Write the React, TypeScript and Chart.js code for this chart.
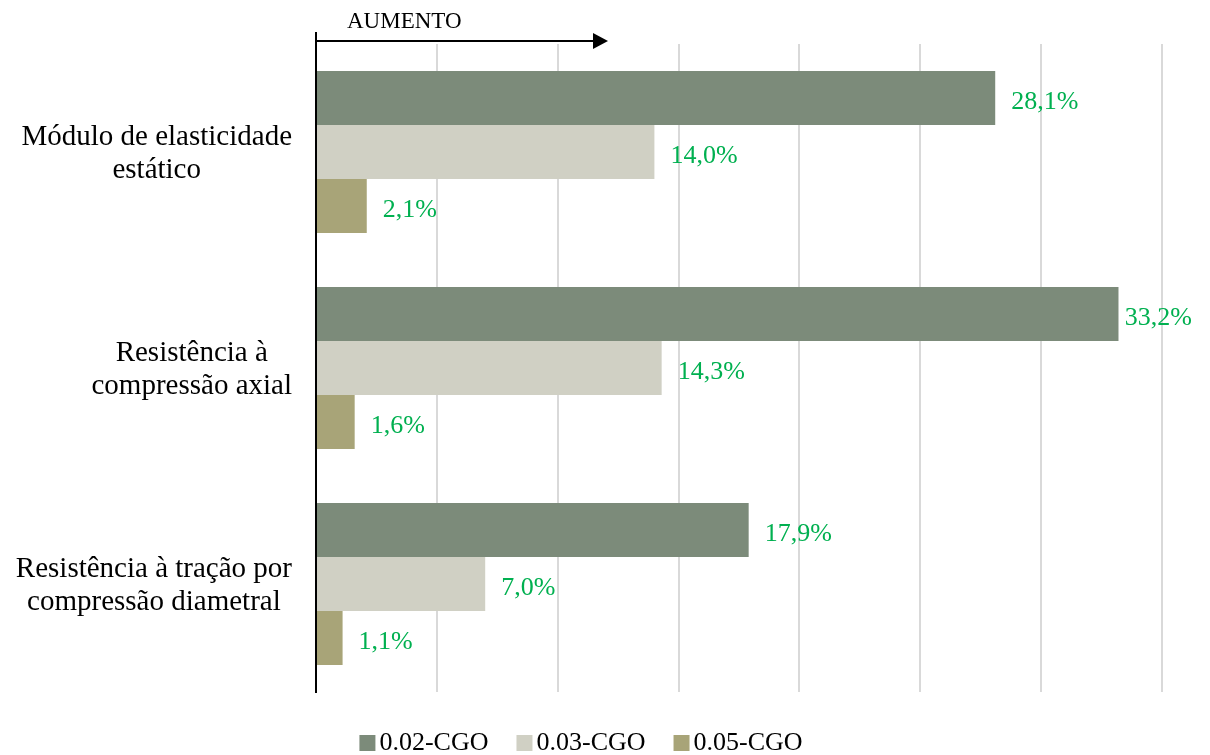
import React, { useEffect, useRef } from "react";
import { Chart, registerables } from "chart.js";

Chart.register(...registerables);

// Properties measured (multi-line category labels)
const categories: string[][] = [
  ["Módulo de elasticidade", "estático"],
  ["Resistência à", "compressão axial"],
  ["Resistência à tração por", "compressão diametral"],
];

// Percentage increase for each graphene-oxide content
const series02CGO: number[] = [28.1, 33.2, 17.9];
const series03CGO: number[] = [14.0, 14.3, 7.0];
const series05CGO: number[] = [2.1, 1.6, 1.1];

const seriesNames: string[] = ["0.02-CGO", "0.03-CGO", "0.05-CGO"];
const seriesColors: string[] = ["#7C8B7A", "#D0D0C4", "#A8A478"];

const xMin = 0;
const xMax = 35;
const xStep = 5;

const arrowCaption = "AUMENTO";

const SERIF = "'Liberation Serif', 'Times New Roman', serif";
const LABEL_GREEN = "#00B050";

const fmtPct = (v: number) => v.toFixed(1).replace(".", ",") + "%";

// Category labels: each block right-aligned to the axis, its lines centred within the block
const categoryLabels = {
  id: "categoryLabels",
  afterDraw(chart: any) {
    const ctx = chart.ctx;
    const yScale = chart.scales.y;
    const right = chart.chartArea.left - 24;
    const lineH = 33;
    ctx.save();
    ctx.font = `29px ${SERIF}`;
    ctx.fillStyle = "#000";
    ctx.textAlign = "center";
    ctx.textBaseline = "middle";
    (chart.data.labels as string[][]).forEach((lines, i) => {
      const w = Math.max(...lines.map((l) => ctx.measureText(l).width));
      const cx = right - w / 2;
      const cy = yScale.getPixelForValue(i);
      const y0 = cy - ((lines.length - 1) * lineH) / 2 + 2;
      lines.forEach((l, k) => ctx.fillText(l, cx, y0 + k * lineH));
    });
    ctx.restore();
  },
};

// Value labels to the right of each bar, kept inside the canvas
const valueLabels = {
  id: "valueLabels",
  afterDatasetsDraw(chart: any) {
    const ctx = chart.ctx;
    ctx.save();
    ctx.font = `26px ${SERIF}`;
    ctx.fillStyle = LABEL_GREEN;
    ctx.textAlign = "left";
    ctx.textBaseline = "middle";
    chart.data.datasets.forEach((ds: any, di: number) => {
      const meta = chart.getDatasetMeta(di);
      meta.data.forEach((el: any, i: number) => {
        const txt = fmtPct(ds.data[i]);
        const w = ctx.measureText(txt).width;
        const x = Math.min(el.x + 16, chart.width - 10 - w);
        ctx.fillText(txt, x, el.y + 4);
      });
    });
    ctx.restore();
  },
};

// Vertical axis line, "AUMENTO" arrow and the bottom legend
const decorations = {
  id: "decorations",
  afterDraw(chart: any) {
    const ctx = chart.ctx;
    const area = chart.chartArea;
    const x0 = chart.scales.x.getPixelForValue(xMin);
    ctx.save();

    // vertical baseline
    ctx.strokeStyle = "#000";
    ctx.lineWidth = 2;
    ctx.beginPath();
    ctx.moveTo(x0, area.top - 12);
    ctx.lineTo(x0, area.bottom + 1);
    ctx.stroke();

    // arrow
    const ay = area.top - 3;
    const tip = x0 + 292;
    ctx.beginPath();
    ctx.moveTo(x0, ay);
    ctx.lineTo(tip - 14, ay);
    ctx.stroke();
    ctx.fillStyle = "#000";
    ctx.beginPath();
    ctx.moveTo(tip, ay);
    ctx.lineTo(tip - 15, ay - 8);
    ctx.lineTo(tip - 15, ay + 8);
    ctx.closePath();
    ctx.fill();

    ctx.font = `23px ${SERIF}`;
    ctx.textAlign = "left";
    ctx.textBaseline = "alphabetic";
    ctx.fillText(arrowCaption, x0 + 31, area.top - 16);

    // legend
    ctx.font = `26px ${SERIF}`;
    ctx.textBaseline = "middle";
    const box = 16;
    const gapText = 4;
    const gapItem = 28;
    const widths = seriesNames.map((n) => box + gapText + ctx.measureText(n).width);
    const total = widths.reduce((a, b) => a + b, 0) + gapItem * (widths.length - 1);
    let lx = 573 - total / 2;
    const ly = chart.height - 12;
    seriesNames.forEach((name, i) => {
      ctx.fillStyle = seriesColors[i];
      ctx.fillRect(lx, ly - box / 2, box, box);
      ctx.fillStyle = "#000";
      ctx.fillText(name, lx + box + gapText, ly);
      lx += widths[i] + gapItem;
    });

    ctx.restore();
  },
};

export default function App() {
  const canvasRef = useRef<HTMLCanvasElement | null>(null);

  useEffect(() => {
    if (!canvasRef.current) return;
    const data = [series02CGO, series03CGO, series05CGO];
    const chart = new Chart(canvasRef.current, {
      type: "bar",
      data: {
        labels: categories,
        datasets: seriesNames.map((name, i) => ({
          label: name,
          data: data[i],
          backgroundColor: seriesColors[i],
          borderWidth: 0,
          barPercentage: 1,
          categoryPercentage: 0.75,
        })),
      },
      options: {
        indexAxis: "y",
        animation: false,
        responsive: true,
        maintainAspectRatio: false,
        layout: { padding: { left: 0, top: 36, right: 40, bottom: 63 } },
        plugins: {
          legend: { display: false },
          tooltip: { enabled: false },
        },
        scales: {
          x: {
            min: xMin,
            max: xMax,
            ticks: { display: false, stepSize: xStep },
            grid: { color: "#D9D9D9", lineWidth: 2, drawTicks: false },
            border: { display: false },
          },
          y: {
            grid: { display: false, drawTicks: false },
            border: { display: false },
            ticks: { display: false },
            afterFit(scale: any) {
              scale.width = 308;
              scale.paddingTop = 0;
              scale.paddingBottom = 0;
            },
          },
        },
      },
      plugins: [valueLabels, decorations, categoryLabels],
    });
    return () => chart.destroy();
  }, []);

  return (
    <div style={{ width: 1194, height: 747, position: "relative" }}>
      <canvas ref={canvasRef} />
    </div>
  );
}
